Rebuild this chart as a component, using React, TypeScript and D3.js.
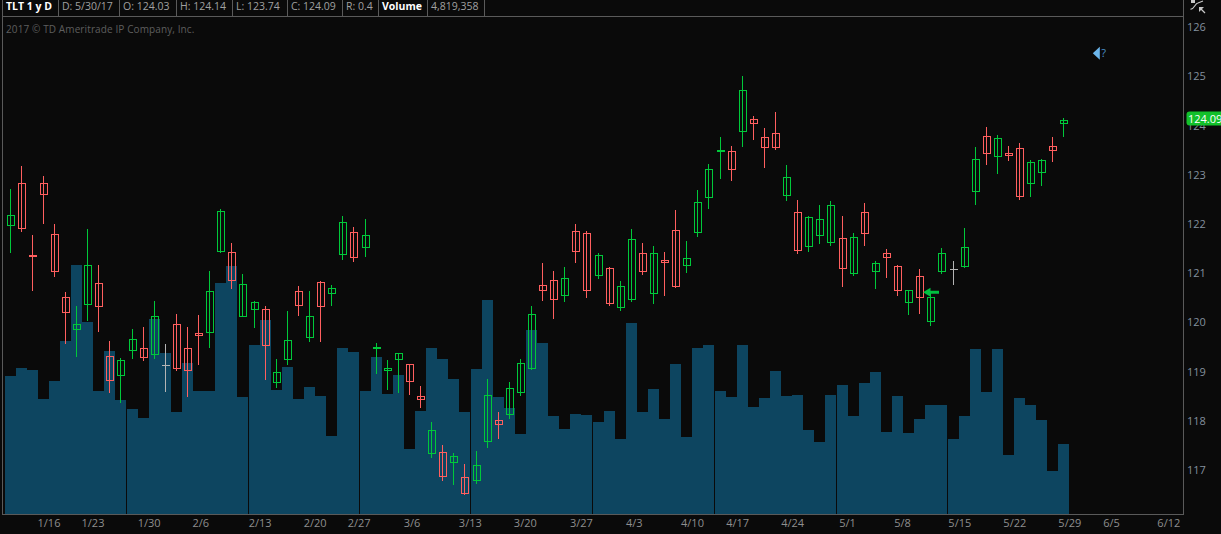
import React from "react";
import * as d3 from "d3";

const opens = [121.95,122.81,121.33,122.81,121.77,120.49,119.84,120.35,120.77,119.29,118.90,119.41,119.45,119.33,119.11,119.94,119.45,119.76,119.78,121.42,121.40,120.10,120.24,120.24,118.75,119.22,120.61,119.67,120.79,120.57,121.36,121.81,121.50,119.45,119.00,119.22,119.12,118.48,117.32,117.34,117.13,116.83,116.77,117.56,117.99,118.11,118.56,119.04,120.72,120.83,120.53,121.83,121.79,120.94,121.08,120.28,120.45,121.38,120.57,121.24,121.85,121.14,121.81,122.52,123.46,123.46,123.86,124.11,123.74,123.82,122.56,122.22,121.52,121.75,121.61,121.69,120.98,122.22,121.02,121.38,121.12,120.39,120.91,120.00,121.02,121.06,121.11,122.64,123.76,123.35,123.41,123.52,122.80,123.03,123.56,124.03];
const highs = [122.69,123.16,121.75,122.95,121.98,120.60,120.31,121.88,121.14,119.60,119.25,119.84,119.88,120.41,119.54,120.15,119.88,120.13,121.02,122.28,121.59,120.96,120.41,120.31,119.23,120.21,120.72,120.62,120.82,120.74,122.14,121.92,122.08,119.56,119.21,119.35,119.13,118.69,117.95,117.49,117.32,117.10,117.36,118.83,118.16,118.77,119.23,120.31,121.19,121.02,121.10,121.98,121.84,121.38,121.10,120.82,121.88,121.59,121.53,121.41,122.26,121.63,122.66,123.20,123.75,123.56,124.99,124.17,123.92,124.25,123.18,122.47,122.14,122.36,122.45,122.14,121.79,122.40,121.22,121.47,121.14,120.63,121.06,120.58,121.48,121.22,121.90,123.54,123.94,123.78,123.56,123.62,123.27,123.29,123.74,124.14];
const lows = [121.39,121.82,120.62,121.98,120.91,119.54,119.28,120.01,119.79,118.55,118.33,119.24,119.20,119.24,118.57,119.00,118.47,119.12,119.46,121.39,120.66,120.10,119.86,118.81,118.65,119.11,120.11,119.58,119.58,120.31,121.25,121.21,121.31,118.93,118.60,118.54,118.50,118.24,117.22,116.75,116.67,116.47,116.69,117.42,117.61,118.01,118.48,119.02,120.42,120.05,120.40,121.19,120.48,120.86,120.32,120.20,120.40,120.95,120.36,120.52,120.68,120.99,121.72,122.29,122.90,122.86,123.55,123.69,123.12,123.49,122.45,121.37,121.41,121.58,121.54,120.70,120.93,121.54,120.66,120.89,120.52,120.13,120.15,119.91,120.97,120.74,121.09,122.37,123.18,123.00,123.26,122.47,122.53,122.76,123.24,123.74];
const closes = [122.15,121.89,121.32,122.58,121.02,120.18,119.94,121.14,120.30,118.80,119.21,119.63,119.27,120.10,119.11,119.04,119.00,119.72,120.61,122.24,120.83,120.75,120.39,119.51,118.96,119.61,120.33,120.10,120.30,120.67,122.01,121.30,121.75,119.46,119.04,119.35,118.78,118.41,117.78,116.85,117.26,116.50,117.07,118.50,117.91,118.64,119.15,120.14,120.63,120.45,120.87,121.42,120.63,121.34,120.37,120.71,121.67,121.02,121.38,121.20,120.71,121.28,122.42,123.09,123.47,123.09,124.70,124.02,123.54,123.54,122.93,121.44,122.11,122.07,122.36,121.08,121.71,121.79,121.18,121.30,120.63,120.63,120.49,120.49,121.38,121.06,121.50,123.29,123.41,123.72,123.37,122.54,123.23,123.27,123.48,124.09];
const volumes = [9.50,10.05,9.91,7.91,9.15,11.91,17.14,13.21,8.46,11.22,7.85,7.23,6.61,13.42,11.08,7.02,10.39,8.46,8.46,15.90,17.07,8.05,11.63,13.35,8.53,10.12,7.91,8.74,8.12,5.37,11.42,11.15,8.46,10.80,8.26,9.57,4.47,7.09,11.42,10.67,9.29,7.02,9.98,14.73,8.05,7.30,5.51,12.66,11.77,6.74,5.85,6.88,6.81,6.33,7.09,5.16,13.14,7.02,8.60,6.54,10.32,5.30,11.42,11.63,8.46,8.05,11.63,7.36,7.98,9.84,8.12,8.19,5.78,4.96,8.19,8.88,6.74,9.02,9.77,5.64,8.12,5.57,6.54,7.50,7.50,5.16,6.74,11.35,8.40,11.35,4.06,7.98,7.50,6.47,2.96,4.82];

// First bar index of each period: one extra pixel is left before each
const periodStarts = [11, 22, 32, 42, 53, 64, 75, 85];
const priceTicks = [126, 125, 124, 123, 122, 121, 120, 119, 118, 117];
const dateLabels = ["1/16","1/23","1/30","2/6","2/13","2/20","2/27","3/6","3/13","3/20","3/27","4/3","4/10","4/17","4/24","5/1","5/8","5/15","5/22","5/29","6/5","6/12"];
const dateSlots = [3.5,7.5,12.6,17.3,22.7,27.7,31.7,36.5,41.8,46.8,51.9,56.7,62,66.1,71.1,76.1,81.1,86.3,91.3,96.3,100.1,105.3];
const headerCells = [
  { label: "TLT 1 y D", bold: true, right: 58 },
  { label: "D: 5/30/17", bold: false, right: 119 },
  { label: "O: 124.03", bold: false, right: 176 },
  { label: "H: 124.14", bold: false, right: 232 },
  { label: "L: 123.74", bold: false, right: 287 },
  { label: "C: 124.09", bold: false, right: 342 },
  { label: "R: 0.4", bold: false, right: 378 },
  { label: "Volume", bold: true, right: 427 },
  { label: "4,819,358", bold: false, right: 484 },
];
const lastPrice = 124.09;
const signalBar = 83;
const signalPrice = 120.59;
const questionBar = 98.3;
const questionPrice = 125.45;

const W = 1221, H = 534;
const BG = "#0a0a0a", FRAME = "#5a5a5a", GREEN = "#00c83a", RED = "#ff5f5f", DOJI = "#b4b4b4", VOL = "#0d4560";
const FONT = "'Open Sans', sans-serif";

const slotOf = (i: number) => i + periodStarts.filter((s) => s <= i).length / 11;
const x = d3.scaleLinear().domain([0, 1]).range([10.5, 21.5]);
const y = d3.scaleLinear().domain([124, 117]).range([124.5, 468.9]);
const yVol = d3.scaleLinear().domain([0, 20]).range([514, 223.4]);
const snap = (v: number) => Math.round(v - 0.5) + 0.5;

export default function App() {
  return (
    <svg width={W} height={H} style={{ position: "fixed", left: 0, top: 0, display: "block", background: BG }} fontFamily={FONT}>
      <rect width={W} height={H} fill={BG} />

      {volumes.map((v, i) => {
        const left = Math.round(x(slotOf(i)) - 5.5);
        const top = Math.round(yVol(v));
        return <rect key={i} x={left} y={top} width={11} height={514 - top} fill={VOL} shapeRendering="crispEdges" />;
      })}

      {opens.map((o, i) => {
        const c = closes[i];
        const color = c > o ? GREEN : c < o ? RED : DOJI;
        const cx = Math.round(x(slotOf(i)) - 0.5) + 0.5;
        const top = snap(y(Math.max(o, c)));
        const bot = snap(y(Math.min(o, c)));
        const flat = bot - top < 1;
        return (
          <g key={i} shapeRendering="crispEdges" stroke={color} fill="none">
            <line x1={cx} x2={cx} y1={Math.round(y(highs[i]))} y2={Math.round(y(lows[i]))} />
            {flat ? (
              <line x1={cx - 3.5} x2={cx + 4.5} y1={c === o ? top : top + 0.5} y2={c === o ? top : top + 0.5} strokeWidth={c === o ? 1 : 2} />
            ) : (
              <rect x={cx - 3} y={top} width={7} height={bot - top} />
            )}
          </g>
        );
      })}

      {/* Frame */}
      <g stroke={FRAME} shapeRendering="crispEdges">
        <line x1={2.5} x2={2.5} y1={0} y2={514.5} />
        <line x1={2} x2={1183.5} y1={16.5} y2={16.5} />
        <line x1={2} x2={1184} y1={514.5} y2={514.5} />
        <line x1={1183.5} x2={1183.5} y1={0} y2={515} />
        {headerCells.map((h) => (
          <line key={h.label} x1={h.right + 0.5} x2={h.right + 0.5} y1={0} y2={16} />
        ))}
      </g>

      {/* Header */}
      {headerCells.map((h, i) => (
        <text
          key={h.label}
          x={i === 0 ? 6 : headerCells[i - 1].right + 4}
          y={10}
          fontSize={10.5}
          fontWeight={h.bold ? 700 : 400}
          fill={h.bold ? "#ffffff" : "#a0a0a0"}
        >
          {h.label}
        </text>
      ))}

      <text x={6} y={33} fontSize={10} fill="#5e5e5e" letterSpacing={0.11}>2017 © TD Ameritrade IP Company, Inc.</text>

      {/* Price axis */}
      {priceTicks.map((t) => (
        <text key={t} x={1187} y={y(t) + 5} fontSize={11} fill="#84909e">{t}</text>
      ))}
      <rect x={1186.5} y={y(lastPrice) - 8.5} width={40} height={14} rx={3} fill="#12c02a" />
      <text x={1188} y={y(lastPrice) + 3} fontSize={11} fill="#ffffff">{lastPrice.toFixed(2)}</text>

      {/* Date axis */}
      {dateLabels.map((d, i) => (
        <text key={d} x={x(dateSlots[i])} y={527} fontSize={11} fill="#8e8e8e" textAnchor="middle">{d}</text>
      ))}

      {/* Signal arrow */}
      {(() => {
        const ax = x(slotOf(signalBar));
        const ay = y(signalPrice);
        const p = d3.path();
        p.moveTo(ax - 7.5, ay);
        p.lineTo(ax, ay - 4.5);
        p.lineTo(ax, ay - 1.5);
        p.lineTo(ax + 8.5, ay - 1.5);
        p.lineTo(ax + 8.5, ay + 1.5);
        p.lineTo(ax, ay + 1.5);
        p.lineTo(ax, ay + 4.5);
        p.closePath();
        return <path d={p.toString()} fill="#00c040" />;
      })()}

      {/* Question marker */}
      {(() => {
        const qx = x(slotOf(questionBar));
        const qy = y(questionPrice);
        const p = d3.path();
        p.moveTo(qx - 7, qy);
        p.lineTo(qx, qy - 6.5);
        p.lineTo(qx, qy + 6.5);
        p.closePath();
        return (
          <g>
            <path d={p.toString()} fill="#6cb6ec" />
            <text x={qx + 1.5} y={qy + 4} fontSize={11} fill="#4a90c8">?</text>
          </g>
        );
      })()}

      {/* Corner icon */}
      <g stroke="#c8c8c8" fill="none" strokeWidth={1.2}>
        <path d="M1190.5 9 C1194 10 1195 3 1198 3 L1203 1" />
        <path d="M1200 8 L1205 13" />
      </g>
      <path d="M1199 7 L1204 7 L1199 12 Z" fill="#c8c8c8" />
      <rect x={1191} y={0} width={4} height={3} fill="#c8c8c8" />
    </svg>
  );
}
